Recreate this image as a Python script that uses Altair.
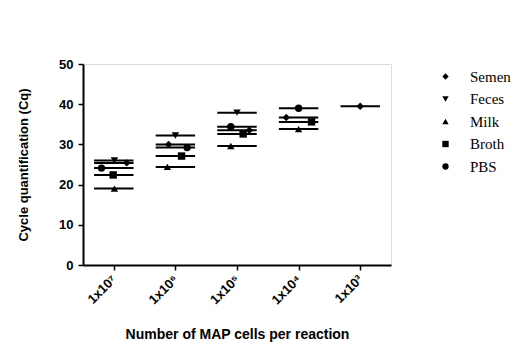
import json
import altair as alt
import pandas as pd

# ---- data ----
groups = ["1x10⁷", "1x10⁶", "1x10⁵", "1x10⁴", "1x10³"]
series = ["Semen", "Feces", "Milk", "Broth", "PBS"]
shapes = ["diamond", "triangle-down", "triangle-up", "square", "circle"]

# Cq values per series, one per dilution (None = not detected)
semen = [25.4, 30.0, 33.5, 36.7, 39.5]
feces = [26.0, 32.2, 37.9, None, None]
milk = [19.0, 24.4, 29.6, 33.8, None]
broth = [22.4, 27.1, 32.6, 35.6, None]
pbs = [24.1, 29.2, 34.4, 39.0, None]

# horizontal scatter jitter (GraphPad-style) per series and dilution
semen_jit = [0.21, -0.11, 0.20, -0.20, 0.0]
feces_jit = [0.01, 0.0, 0.0, 0.0, 0.0]
milk_jit = [0.01, -0.13, -0.10, 0.0, 0.0]
broth_jit = [-0.01, 0.10, 0.10, 0.21, 0.0]
pbs_jit = [-0.20, 0.19, -0.10, 0.0, 0.0]

values = {"Semen": semen, "Feces": feces, "Milk": milk, "Broth": broth, "PBS": pbs}
jitter = {"Semen": semen_jit, "Feces": feces_jit, "Milk": milk_jit,
          "Broth": broth_jit, "PBS": pbs_jit}

rows = []
for s in series:
    for gi, v in enumerate(values[s]):
        if v is None:
            continue
        rows.append({"series": s, "g": gi, "cq": v, "jit": jitter[s][gi]})
df = pd.DataFrame(rows)

xscale = alt.Scale(domain=[-0.5, 4.5], nice=False, zero=False)
yscale = alt.Scale(domain=[0, 50], nice=False)

label_expr = json.dumps(groups) + "[datum.value]"

xaxis = alt.Axis(
    values=[0, 1, 2, 3, 4], labelExpr=label_expr, labelAngle=-45,
    labelAlign="right", labelBaseline="middle", labelFont="Liberation Sans",
    labelFontWeight="bold", labelFontSize=13, labelColor="black",
    labelPadding=7, labelBound=False, labelOverlap=False,
    title="Number of MAP cells per reaction", titleFont="Liberation Sans",
    titleFontWeight="bold", titleFontSize=14, titleColor="black",
    titlePadding=21, domainColor="black", domainWidth=2, tickColor="black",
    tickWidth=1.5, tickSize=5, grid=False,
)
yaxis = alt.Axis(
    values=[0, 10, 20, 30, 40, 50], labelFont="Liberation Sans",
    labelFontWeight="bold", labelFontSize=13, labelColor="black",
    labelPadding=5, title="Cycle quantification (Cq)",
    titleFont="Liberation Sans", titleFontWeight="bold", titleFontSize=13,
    titleColor="black", titlePadding=28, domainColor="black", domainWidth=2,
    tickColor="black", tickWidth=1.5, tickSize=5, grid=False,
)

base = alt.Chart(df)

rules = base.transform_calculate(
    x1="datum.g - 0.32", x2="datum.g + 0.32"
).mark_rule(color="black", strokeWidth=2).encode(
    x=alt.X("x1:Q", scale=xscale, axis=xaxis),
    x2="x2:Q",
    y=alt.Y("cq:Q", scale=yscale, axis=yaxis),
)

points = base.transform_calculate(
    xp="datum.g + datum.jit"
).mark_point(filled=True, color="black", opacity=1, size=55).encode(
    x=alt.X("xp:Q", scale=xscale),
    y=alt.Y("cq:Q", scale=yscale),
    shape=alt.Shape(
        "series:N",
        scale=alt.Scale(domain=series, range=shapes),
        sort=series,
        legend=alt.Legend(
            title=None, orient="none", legendX=352, legendY=5,
            labelFont="Liberation Serif", labelFontSize=15,
            labelColor="black", symbolFillColor="black",
            symbolStrokeColor="black", symbolSize=40, symbolType="circle",
            rowPadding=6.5, labelOffset=17, symbolOffset=3,
        ),
    ),
)

chart = alt.layer(rules, points).properties(
    width=308, height=201,
    autosize=alt.AutoSizeParams(type="none"),
    padding={"left": 83, "top": 64, "right": 140, "bottom": 82},
).configure_view(stroke=None).configure(background="white")

chart.save("out.html", embed_options={"renderer": "svg", "actions": False})
